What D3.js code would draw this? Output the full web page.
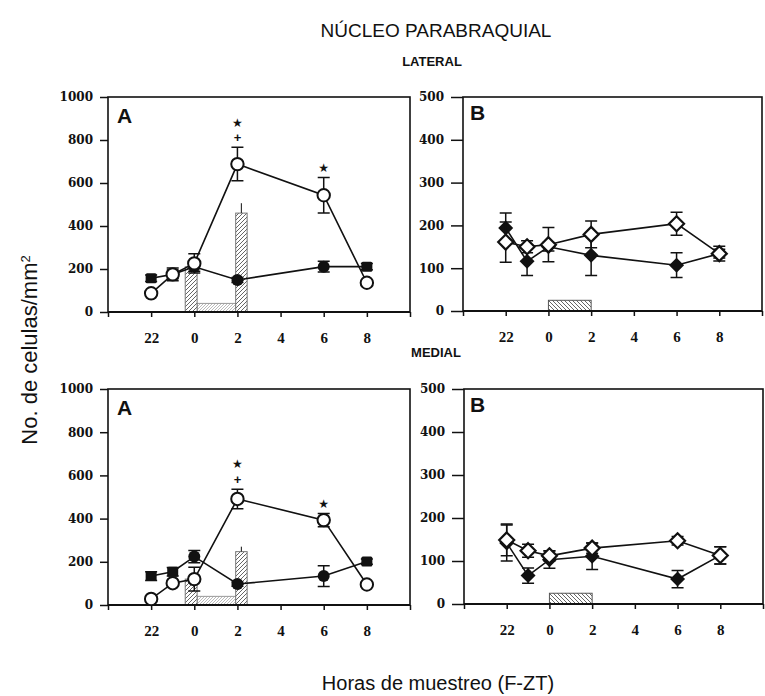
<!DOCTYPE html>
<html><head><meta charset="utf-8">
<script src="https://cdn.jsdelivr.net/npm/d3@7"></script>
<style>body{margin:0;background:#fff}</style>
</head><body>
<svg id="chart" width="765" height="696"></svg>
<script>
// ---------- data ----------
const hours = [-2, -1, 0, 2, 6, 8];
const xTickValues = [-4, -2, 0, 2, 4, 6, 8, 10];
const xTickLabels = ["", "22", "0", "2", "4", "6", "8", ""];
const yTicksA = [0, 200, 400, 600, 800, 1000];
const yTicksB = [0, 100, 200, 300, 400, 500];

// LATERAL – panel A
const latA_open = [87, 175, 226, 688, 543, 136];
const latA_openErr = [10, 30, 45, 78, 83, 10];
const latA_filled = [157, 175, 210, 149, 211, 211];
const latA_filledErr = [15, 20, 20, 12, 25, 15];
const latA_sig = [[], [], [], ["+", "★"], ["★"], []];
const latA_bars = [{x0: -0.42, x1: 0.13, v: 210, err: 0}, {x0: 1.92, x1: 2.45, v: 460, err: 46}];
const latA_floor = {x0: 0.13, x1: 1.92, v: 40};

// LATERAL – panel B
const latB_open = [161, 150, 155, 179, 204, 134];
const latB_openErr = [47, 14, 40, 31, 27, 17];
const latB_filled = [194, 116, 150, 130, 107, 134];
const latB_filledErr = [35, 33, 10, 47, 29, 10];
const latB_floor = {x0: 0, x1: 2, v: 25};

// MEDIAL – panel A
const medA_open = [28, 101, 120, 491, 393, 95];
const medA_openErr = [8, 10, 55, 45, 31, 10];
const medA_filled = [134, 154, 224, 97, 134, 201];
const medA_filledErr = [20, 20, 28, 10, 48, 12];
const medA_sig = [[], [], [], ["+", "★"], ["★"], []];
const medA_bars = [{x0: -0.42, x1: 0.13, v: 120, err: 0}, {x0: 1.92, x1: 2.45, v: 247, err: 23}];
const medA_floor = {x0: 0.13, x1: 1.92, v: 40};

// MEDIAL – panel B
const medB_open = [149, 124, 112, 130, 147, 113];
const medB_openErr = [37, 15, 12, 12, 10, 20];
const medB_filled = [142, 66, 103, 111, 58, 113];
const medB_filledErr = [42, 18, 20, 31, 20, 20];
const medB_floor = {x0: 0, x1: 2, v: 25};

// style only
const filledShapeA = ["square", "square", "circle", "circle", "circle", "square"];

// ---------- drawing ----------
const svg = d3.select("#chart");
const defs = svg.append("defs");
function hatch(id, size, color, width, dir) {
  const p = defs.append("pattern").attr("id", id).attr("patternUnits", "userSpaceOnUse")
    .attr("width", size).attr("height", size);
  p.append("rect").attr("width", size).attr("height", size).attr("fill", "#fff");
  const d = dir > 0
    ? `M0,${size} L${size},0 M${-size/2},${size/2} L${size/2},${-size/2} M${size/2},${size*1.5} L${size*1.5},${size/2}`
    : `M0,0 L${size},${size} M${-size/2},${size/2} L${size/2},${size*1.5} M${size/2},${-size/2} L${size*1.5},${size/2}`;
  p.append("path").attr("d", d).attr("stroke", color).attr("stroke-width", width);
}
hatch("hatchBar", 4, "#666", 1, 1);
hatch("hatchFloor", 3, "#aaa", 0.8, 1);
hatch("hatchB", 4, "#666", 1, -1);

const panels = [
  {x: [108, 410], y: [312, 97], yMax: 1000, yTicks: yTicksA, letter: "A", lp: [117, 123], kind: "A",
   open: latA_open, openErr: latA_openErr, filled: latA_filled, filledErr: latA_filledErr,
   sig: latA_sig, bars: latA_bars, floor: latA_floor, tick: 8, pad: 7, yFont: "bold 12px 'DejaVu Serif'"},
  {x: [463, 762], y: [311, 97], yMax: 500, yTicks: yTicksB, letter: "B", lp: [470, 120], kind: "B",
   open: latB_open, openErr: latB_openErr, filled: latB_filled, filledErr: latB_filledErr,
   sig: null, bars: [], floor: latB_floor, tick: 12, pad: 7, yFont: "bold 12px 'DejaVu Serif'"},
  {x: [108, 410], y: [605, 389], yMax: 1000, yTicks: yTicksA, letter: "A", lp: [117, 415], kind: "A",
   open: medA_open, openErr: medA_openErr, filled: medA_filled, filledErr: medA_filledErr,
   sig: medA_sig, bars: medA_bars, floor: medA_floor, tick: 8, pad: 7, yFont: "bold 12px 'DejaVu Serif'"},
  {x: [464, 763], y: [604, 389], yMax: 500, yTicks: yTicksB, letter: "B", lp: [470, 412], kind: "B",
   open: medB_open, openErr: medB_openErr, filled: medB_filled, filledErr: medB_filledErr,
   sig: null, bars: [], floor: medB_floor, tick: 12, pad: 7, yFont: "bold 12px 'DejaVu Serif'"}
];

panels.forEach(P => {
  const x = d3.scaleLinear().domain([-4, 10]).range(P.x);
  const y = d3.scaleLinear().domain([0, P.yMax]).range(P.y);
  const g = svg.append("g");

  // axes
  const ya = g.append("g").attr("transform", `translate(${P.x[0]},0)`)
    .call(d3.axisLeft(y).tickValues(P.yTicks).tickSize(P.tick).tickPadding(P.pad).tickFormat(d3.format("d")));
  ya.selectAll("text").style("font", P.yFont).attr("fill", "#111");
  ya.selectAll("line").attr("stroke", "#111").attr("stroke-width", 1.5);
  ya.select(".domain").remove();

  const xa = g.append("g").attr("transform", `translate(0,${P.y[0]})`)
    .call(d3.axisBottom(x).tickValues(xTickValues).tickSize(5).tickPadding(15)
      .tickFormat((d, i) => xTickLabels[i]));
  xa.selectAll("text").style("font", "bold 15px 'Liberation Serif'").attr("fill", "#111");
  xa.selectAll("line").attr("stroke", "#111").attr("stroke-width", 1.5);
  xa.select(".domain").remove();

  // floor bar and narrow bars
  const fl = P.floor;
  g.append("rect").attr("x", x(fl.x0)).attr("width", x(fl.x1) - x(fl.x0))
    .attr("y", y(fl.v)).attr("height", y(0) - y(fl.v))
    .attr("fill", P.kind === "A" ? "url(#hatchFloor)" : "url(#hatchB)")
    .attr("stroke", P.kind === "A" ? "#999" : "#555").attr("stroke-width", 1);
  P.bars.forEach(b => {
    g.append("rect").attr("x", x(b.x0)).attr("width", x(b.x1) - x(b.x0))
      .attr("y", y(b.v)).attr("height", y(0) - y(b.v))
      .attr("fill", "url(#hatchBar)").attr("stroke", "#777").attr("stroke-width", 1);
    if (b.err > 0) {
      const cx = x((b.x0 + b.x1) / 2);
      g.append("line").attr("x1", cx).attr("x2", cx).attr("y1", y(b.v)).attr("y2", y(b.v + b.err))
        .attr("stroke", "#333").attr("stroke-width", 1.2);
    }
  });

  // frame
  g.append("rect").attr("x", P.x[0]).attr("y", P.y[1]).attr("width", P.x[1] - P.x[0])
    .attr("height", P.y[0] - P.y[1]).attr("fill", "none").attr("stroke", "#111").attr("stroke-width", 1.6);
  g.append("line").attr("x1", P.x[0]).attr("x2", P.x[1]).attr("y1", P.y[0]).attr("y2", P.y[0])
    .attr("stroke", "#111").attr("stroke-width", 2.2);

  const line = d3.line().x((d, i) => x(hours[i])).y(d => y(d));
  function series(vals, errs, drawMarker) {
    g.append("path").attr("d", line(vals)).attr("fill", "none").attr("stroke", "#111").attr("stroke-width", 1.6);
    vals.forEach((v, i) => {
      const cx = x(hours[i]);
      const e = errs[i];
      g.append("path").attr("d", `M${cx},${y(v - e)}V${y(v + e)}M${cx - 6},${y(v + e)}H${cx + 6}M${cx - 6},${y(v - e)}H${cx + 6}`)
        .attr("stroke", "#111").attr("stroke-width", 1.5).attr("fill", "none");
    });
    vals.forEach((v, i) => drawMarker(x(hours[i]), y(v), i));
  }

  if (P.kind === "A") {
    series(P.filled, P.filledErr, (cx, cy, i) => {
      if (filledShapeA[i] === "square")
        g.append("rect").attr("x", cx - 5.5).attr("y", cy - 5).attr("width", 11).attr("height", 10)
          .attr("rx", 1.5).attr("fill", "#111");
      else g.append("circle").attr("cx", cx).attr("cy", cy).attr("r", 6).attr("fill", "#111");
    });
    series(P.open, P.openErr, (cx, cy) => {
      g.append("circle").attr("cx", cx).attr("cy", cy).attr("r", 6.2)
        .attr("fill", "#fff").attr("stroke", "#111").attr("stroke-width", 2);
    });
  } else {
    const dia = (cx, cy, r) => `M${cx},${cy - r}L${cx + r},${cy}L${cx},${cy + r}L${cx - r},${cy}Z`;
    series(P.filled, P.filledErr, (cx, cy) => {
      g.append("path").attr("d", dia(cx, cy, 7.5)).attr("fill", "#111");
    });
    series(P.open, P.openErr, (cx, cy) => {
      g.append("path").attr("d", dia(cx, cy, 7.5)).attr("fill", "#fff")
        .attr("stroke", "#111").attr("stroke-width", 2.2);
    });
  }

  // significance marks
  if (P.sig) {
    P.sig.forEach((marks, i) => {
      const top = y(P.open[i] + P.openErr[i]);
      marks.forEach((m, k) => {
        g.append("text").attr("x", x(hours[i])).attr("y", top - 10 - k * 15).attr("dy", "0.35em")
          .attr("text-anchor", "middle")
          .style("font", m === "+" ? "bold 13px 'Liberation Sans'" : "12px 'DejaVu Sans'")
          .attr("fill", "#111").text(m);
      });
    });
  }

  // panel letter
  g.append("text").attr("x", P.lp[0]).attr("y", P.lp[1]).style("font", "bold 21px 'Liberation Sans'")
    .attr("fill", "#111").text(P.letter);
});

// titles
svg.append("text").attr("x", 436).attr("y", 37).attr("text-anchor", "middle")
  .style("font", "19px 'Liberation Sans'").attr("fill", "#111").text("NÚCLEO PARABRAQUIAL");
svg.append("text").attr("x", 432).attr("y", 66).attr("text-anchor", "middle")
  .style("font", "bold 13px 'Liberation Sans'").attr("fill", "#111").text("LATERAL");
svg.append("text").attr("x", 436).attr("y", 357).attr("text-anchor", "middle")
  .style("font", "bold 13px 'Liberation Sans'").attr("fill", "#111").text("MEDIAL");
const yl = svg.append("text").attr("transform", "translate(37,350) rotate(-90)").attr("text-anchor", "middle")
  .style("font", "22px 'Liberation Sans'").attr("fill", "#111");
yl.append("tspan").text("No. de celulas/mm");
yl.append("tspan").attr("dy", "-0.55em").style("font-size", "13px").text("2");
svg.append("text").attr("x", 438).attr("y", 690).attr("text-anchor", "middle")
  .style("font", "20px 'Liberation Sans'").attr("fill", "#111").text("Horas de muestreo (F-ZT)");
</script>
</body></html>
